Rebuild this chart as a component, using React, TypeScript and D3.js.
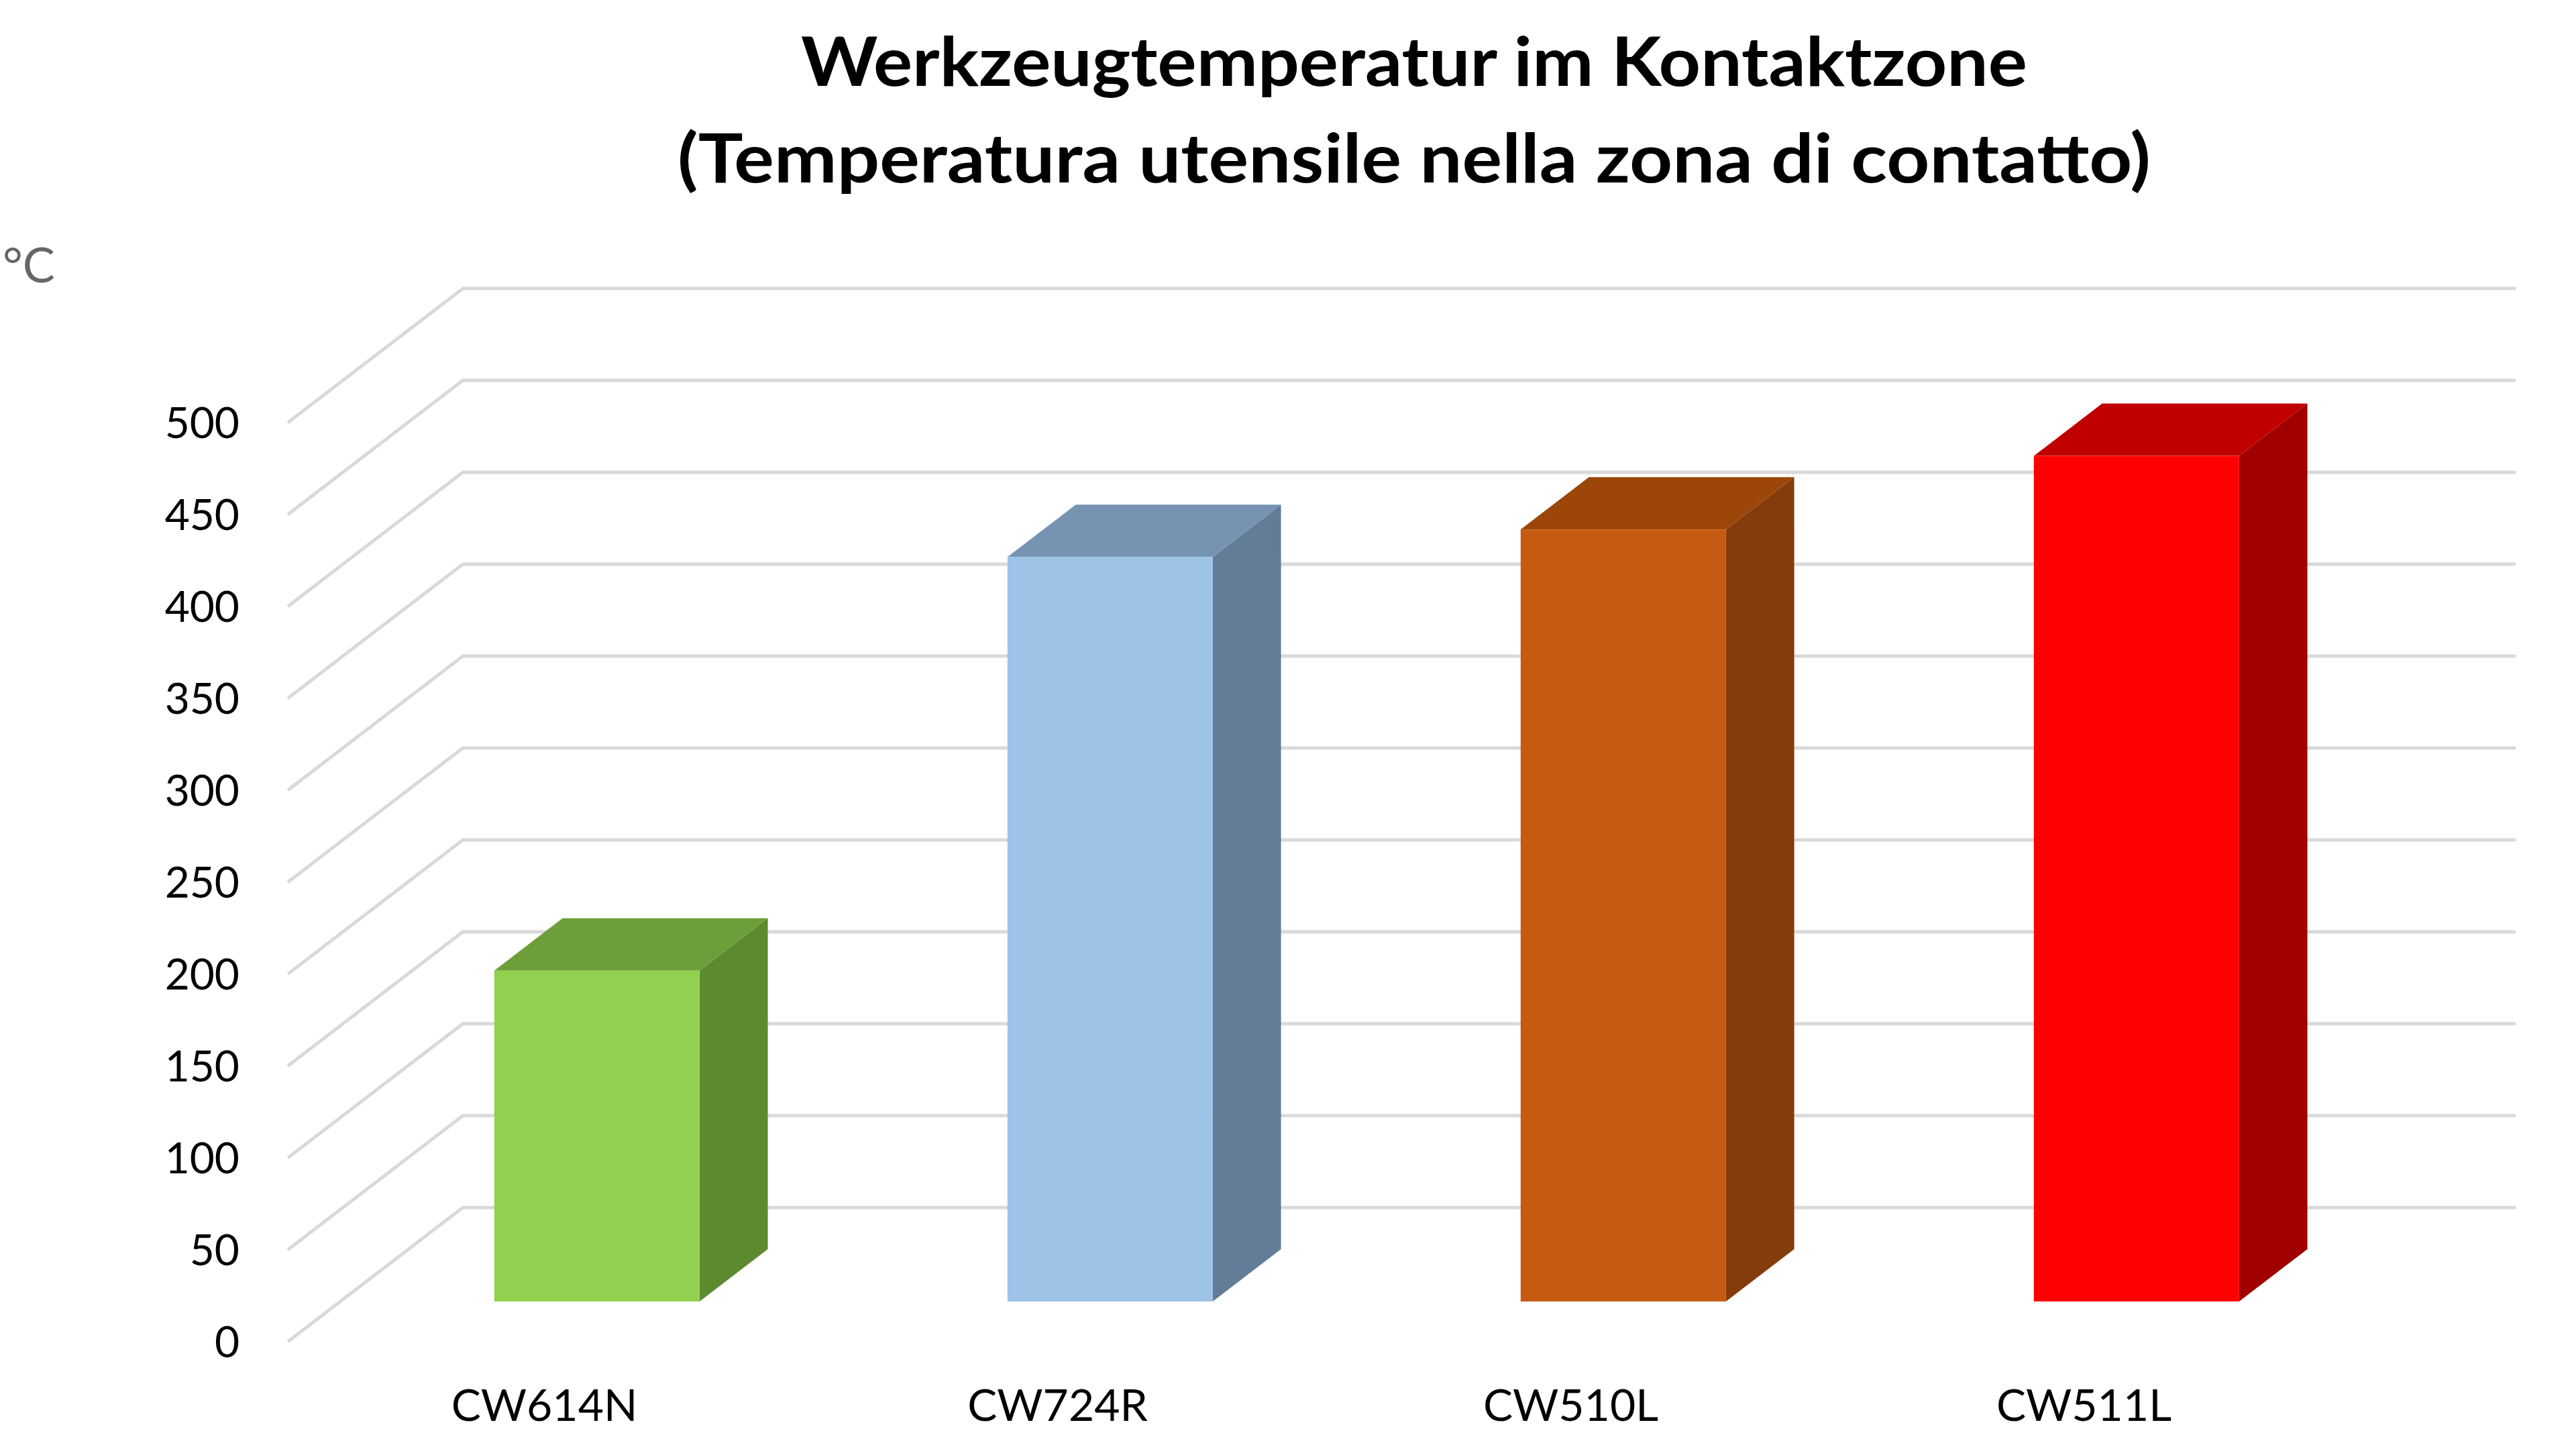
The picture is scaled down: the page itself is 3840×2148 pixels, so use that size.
import React, { useEffect, useRef } from "react";
import * as d3 from "d3";

// chart data
const categories = ["CW614N", "CW724R", "CW510L", "CW511L"];
const temperatures = [180, 405, 420, 460];
const yTicks = [0, 50, 100, 150, 200, 250, 300, 350, 400, 450, 500];
const frontColors = ["#92D050", "#9DC3E6", "#C55A11", "#FF0000"];
const topColors = ["#6E9E3A", "#7694B2", "#9C4709", "#C00000"];
const sideColors = ["#5E8A2F", "#637D98", "#843C0C", "#A00000"];
const titleLines = [
  "Werkzeugtemperatur im Kontaktzone",
  "(Temperatura utensile nella zona di contatto)",
];
const unitLabel = "°C";

const App: React.FC = () => {
  const svgRef = useRef<SVGSVGElement>(null);

  useEffect(() => {
    const svg = d3.select(svgRef.current);
    svg.selectAll("*").remove();
    const width = 3840;
    const height = 2148;
    const font = "Lato, 'Open Sans', sans-serif";

    // front plane of the 3d box, back wall is shifted by depth
    const front = { left: 429, right: 3489, bottom: 2000, top: 630 };
    const depth = { dx: 261, dy: 200 };

    const xScale = d3
      .scaleBand<string>()
      .domain(categories)
      .range([front.left, front.right])
      .paddingInner(0.6)
      .paddingOuter(0.3);

    const yScale = d3
      .scaleLinear()
      .domain([0, 500])
      .range([front.bottom, front.top]);

    svg
      .append("rect")
      .attr("width", width)
      .attr("height", height)
      .attr("fill", "#ffffff");

    // gridlines: side wall diagonal + back wall horizontal
    const grid = svg.append("g").attr("fill", "none").attr("stroke", "#D9D9D9").attr("stroke-width", 5);
    yTicks.forEach((t) => {
      const y = yScale(t);
      grid
        .append("path")
        .attr(
          "d",
          `M${front.left},${y}L${front.left + depth.dx},${y - depth.dy}L${front.right + depth.dx},${y - depth.dy}`
        );
    });

    // y tick labels
    svg
      .append("g")
      .selectAll("text")
      .data(yTicks)
      .join("text")
      .attr("x", 357)
      .attr("y", (d) => yScale(d))
      .attr("dy", "0.36em")
      .attr("text-anchor", "end")
      .attr("font-family", font)
      .attr("font-size", 64)
      .attr("fill", "#000")
      .text((d) => d);

    // 3d bars
    const zFront = 0.3;
    const zDepth = 0.39;
    const bars = svg.append("g");
    temperatures.forEach((v, i) => {
      const ox = depth.dx * zFront;
      const oy = depth.dy * zFront;
      const bx = depth.dx * zDepth;
      const by = depth.dy * zDepth;
      const x0 = xScale(categories[i])! + ox;
      const x1 = x0 + xScale.bandwidth();
      const yb = yScale(0) - oy;
      const yt = yScale(v) - oy;

      // side
      bars
        .append("path")
        .attr("d", `M${x1},${yt}L${x1 + bx},${yt - by}L${x1 + bx},${yb - by}L${x1},${yb}Z`)
        .attr("fill", sideColors[i]);
      // top
      bars
        .append("path")
        .attr("d", `M${x0},${yt}L${x0 + bx},${yt - by}L${x1 + bx},${yt - by}L${x1},${yt}Z`)
        .attr("fill", topColors[i]);
      // front
      bars
        .append("rect")
        .attr("x", x0)
        .attr("y", yt)
        .attr("width", x1 - x0)
        .attr("height", yb - yt)
        .attr("fill", frontColors[i]);
    });

    // category labels
    svg
      .append("g")
      .selectAll("text")
      .data(categories)
      .join("text")
      .attr("x", (d) => xScale(d)! + xScale.bandwidth() / 2)
      .attr("y", 2118)
      .attr("text-anchor", "middle")
      .attr("font-family", font)
      .attr("font-size", 66)
      .attr("fill", "#000")
      .text((d) => d);

    // unit
    svg
      .append("text")
      .attr("x", 4)
      .attr("y", 421)
      .attr("font-family", font)
      .attr("font-size", 72)
      .attr("fill", "#666666")
      .text(unitLabel);

    // title
    const titleWidths = [1828, 2196];
    titleLines.forEach((line, i) => {
      svg
        .append("text")
        .attr("x", 2108)
        .attr("y", 128 + i * 144)
        .attr("text-anchor", "middle")
        .attr("font-family", font)
        .attr("font-weight", "bold")
        .attr("font-size", 102)
        .attr("textLength", titleWidths[i])
        .attr("lengthAdjust", "spacingAndGlyphs")
        .attr("fill", "#000")
        .text(line);
    });
  }, []);

  return (
    <div style={{ position: "absolute", left: 0, top: 0 }}>
      <svg ref={svgRef} width="3840" height="2148" style={{ display: "block" }}></svg>
    </div>
  );
};

export default App;
